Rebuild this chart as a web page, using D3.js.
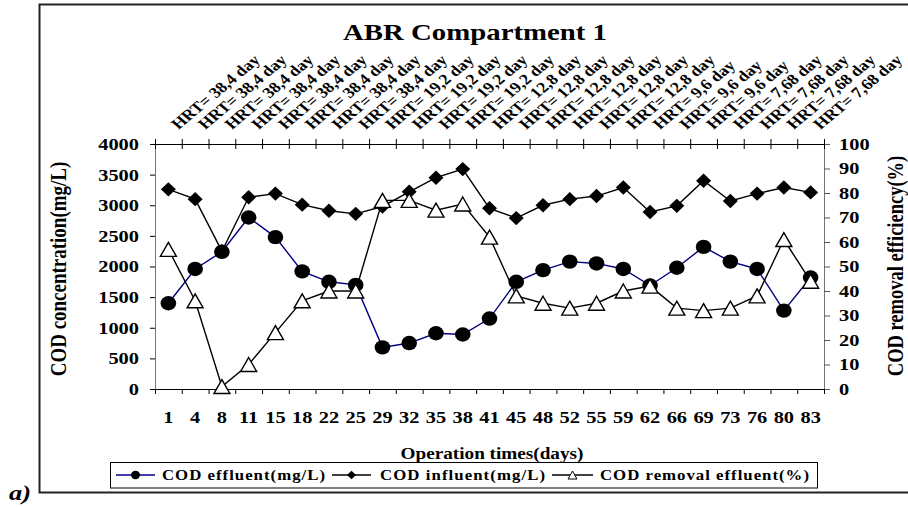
<!DOCTYPE html>
<html><head><meta charset="utf-8">
<script src="https://cdn.jsdelivr.net/npm/d3@7"></script>
<style>
html,body{margin:0;padding:0;background:#fff;}
</style></head>
<body>
<svg id="c" width="908" height="507"></svg>
<script>
const days = [1,4,8,11,15,18,22,25,29,32,35,38,41,45,48,52,55,59,62,66,69,73,76,80,83];
const hrtLabels = [
 "HRT= 38,4 day","HRT= 38,4 day","HRT= 38,4 day","HRT= 38,4 day","HRT= 38,4 day","HRT= 38,4 day","HRT= 38,4 day","HRT= 38,4 day",
 "HRT= 19,2 day","HRT= 19,2 day","HRT= 19,2 day","HRT= 19,2 day",
 "HRT= 12,8 day","HRT= 12,8 day","HRT= 12,8 day","HRT= 12,8 day","HRT= 12,8 day","HRT= 12,8 day",
 "HRT= 9,6 day","HRT= 9,6 day","HRT= 9,6 day",
 "HRT= 7,68 day","HRT= 7,68 day","HRT= 7,68 day","HRT= 7,68 day"];
const effluent = [1400,1960,2240,2800,2480,1920,1750,1700,680,750,910,890,1150,1750,1940,2080,2050,1960,1690,1980,2320,2080,1960,1280,1820];
const influent = [3260,3100,2250,3130,3190,3010,2910,2860,2980,3220,3450,3590,2950,2790,3000,3100,3150,3290,2890,2990,3400,3070,3190,3290,3210];
const removal = [57,36,1,10,23,36,40,40,77,77,73,75.5,62,38,35,33,35,40,42,33,32,33,38,61,44];
const leftTicks = [0,500,1000,1500,2000,2500,3000,3500,4000];
const rightTicks = [0,10,20,30,40,50,60,70,80,90,100];
const title = "ABR Compartment 1";
const xTitle = "Operation times(days)";
const yTitleL = "COD concentration(mg/L)";
const yTitleR = "COD removal efficiency(%)";
const legendNames = ["COD effluent(mg/L)","COD influent(mg/L)","COD removal effluent(%)"];

const FONT = "'Liberation Serif', 'Times New Roman', serif";
const SX = 1.2; // horizontal stretch of the original
const svg = d3.select("#c");
const L=155, R=824, T=144, B=389;

const x = d3.scaleBand().domain(days).range([L,R]).padding(0);
const cx = d => x(d) + x.bandwidth()/2;
const xb = d3.scaleLinear().domain([0,days.length]).range([L,R]);
const yL = d3.scaleLinear().domain([0,4000]).range([B,T]);
const yR = d3.scaleLinear().domain([0,100]).range([B,T]);

function styleText(sel, size){
  return sel.style("font-family",FONT).style("font-weight","bold").style("font-size",size+"px").attr("fill","#000");
}

// outer frame
svg.append("rect").attr("x",39.5).attr("y",4.5).attr("width",900).attr("height",488)
  .attr("fill","none").attr("stroke","#222").attr("stroke-width",2);

function stretchText(sel){
  sel.each(function(){
    const t=d3.select(this);
    const xx=+t.attr("x")||0;
    t.attr("x",0).attr("transform",`translate(${xx},0) scale(${SX},1)`);
  });
}

// left axis
const gl = svg.append("g").attr("transform",`translate(${L},0)`)
  .call(d3.axisLeft(yL).tickValues(leftTicks).tickFormat(d3.format("d")).tickSize(5).tickSizeOuter(0).tickPadding(11));
gl.select(".domain").attr("stroke","#777");
styleText(gl.selectAll("text"),17);
stretchText(gl.selectAll("text"));

// right axis
const gr = svg.append("g").attr("transform",`translate(${R},0)`)
  .call(d3.axisRight(yR).tickValues(rightTicks).tickFormat(d3.format("d")).tickSize(6).tickSizeOuter(0).tickPadding(9));
gr.select(".domain").attr("stroke","#777");
gr.selectAll(".tick line").attr("stroke","#555");
styleText(gr.selectAll("text"),17);
stretchText(gr.selectAll("text"));

// bottom axis: boundary ticks
const gb = svg.append("g").attr("transform",`translate(0,${B})`)
  .call(d3.axisBottom(xb).tickValues(d3.range(0,days.length+1)).tickFormat("").tickSize(5).tickSizeOuter(0));
gb.select(".domain").attr("stroke","#000");
// bottom labels
const gbl = svg.append("g").attr("transform",`translate(0,${B})`)
  .call(d3.axisBottom(x).tickSize(0).tickPadding(22));
gbl.select(".domain").remove();
styleText(gbl.selectAll("text"),17).attr("transform",`scale(${SX},1)`);

// top axis: cross ticks
const gt = svg.append("g").attr("transform",`translate(0,${T})`)
  .call(d3.axisTop(xb).tickValues(d3.range(0,days.length+1)).tickFormat("").tickSize(5).tickSizeOuter(0));
gt.select(".domain").attr("stroke","#000");
const gt2 = svg.append("g").attr("transform",`translate(0,${T})`)
  .call(d3.axisBottom(xb).tickValues(d3.range(0,days.length+1)).tickFormat("").tickSize(5).tickSizeOuter(0));
gt2.select(".domain").remove();
// top HRT labels
const gtl = svg.append("g").attr("transform",`translate(0,${T})`)
  .call(d3.axisTop(x).tickSize(0).tickFormat((d,i)=>hrtLabels[i]));
gtl.select(".domain").remove();
styleText(gtl.selectAll("text"),15)
  .attr("text-anchor","start").attr("x",0).attr("y",0).attr("dy",0)
  .attr("transform",`translate(10,-14) scale(${SX},1) rotate(-45)`);

// series lines
const lineOf = (sc, arr) => d3.line().x((d,i)=>cx(days[i])).y(d=>sc(d))(arr);
svg.append("path").attr("d",lineOf(yL,influent)).attr("fill","none").attr("stroke","#000").attr("stroke-width",1.4);
svg.append("path").attr("d",lineOf(yL,effluent)).attr("fill","none").attr("stroke","#000080").attr("stroke-width",1.4);
svg.append("path").attr("d",lineOf(yR,removal)).attr("fill","none").attr("stroke","#000").attr("stroke-width",1.4);

const diamond = (w,h)=>`M0,${-h}L${w},0L0,${h}L${-w},0Z`;
const tri = (w,h)=>`M0,${-h}L${w},${h}L${-w},${h}Z`;

svg.append("g").selectAll("path").data(influent).join("path")
  .attr("d",diamond(7.5,7.2)).attr("transform",(d,i)=>`translate(${cx(days[i])},${yL(d)})`).attr("fill","#000");
svg.append("g").selectAll("ellipse").data(effluent).join("ellipse")
  .attr("cx",(d,i)=>cx(days[i])).attr("cy",d=>yL(d)).attr("rx",7.8).attr("ry",7.2).attr("fill","#000");
svg.append("g").selectAll("path").data(removal).join("path")
  .attr("d",tri(8,7)).attr("transform",(d,i)=>`translate(${cx(days[i])},${yR(d)})`)
  .attr("fill","#fff").attr("stroke","#000").attr("stroke-width",1.4);

// title
styleText(svg.append("text").text(title),24).attr("text-anchor","middle")
  .attr("transform",`translate(475,40) scale(${SX},1)`);
// axis titles
styleText(svg.append("text").text(xTitle),16).attr("text-anchor","middle")
  .attr("transform",`translate(492,459) scale(${SX},1)`);
styleText(svg.append("text").text(yTitleL),19).attr("text-anchor","middle").attr("dominant-baseline","central")
  .attr("transform",`translate(58,269) scale(${SX},1) rotate(-90)`);
styleText(svg.append("text").text(yTitleR),18.5).attr("text-anchor","middle").attr("dominant-baseline","central")
  .attr("transform",`translate(895,266) scale(${SX},1) rotate(-90)`);

// legend
const lg = svg.append("g");
lg.append("rect").attr("x",110.5).attr("y",462.5).attr("width",707).attr("height",25.5)
  .attr("fill","#fff").attr("stroke","#000").attr("stroke-width",1);
const legItems = [
  {x0:116,x1:155,tx:162,tw:163,color:"#000080",mk:"circle"},
  {x0:332,x1:371,tx:380,tw:165,color:"#000",mk:"diamond"},
  {x0:552,x1:593,tx:600,tw:209,color:"#000",mk:"tri"}];
const ly=475;
legItems.forEach((it,i)=>{
  lg.append("line").attr("x1",it.x0).attr("x2",it.x1).attr("y1",ly).attr("y2",ly).attr("stroke",it.color).attr("stroke-width",1.4);
  const mx=(it.x0+it.x1)/2;
  if(it.mk==="circle") lg.append("ellipse").attr("cx",mx).attr("cy",ly).attr("rx",4.5).attr("ry",4.2).attr("fill","#000");
  if(it.mk==="diamond") lg.append("path").attr("d",diamond(4.5,4.3)).attr("transform",`translate(${mx},${ly})`).attr("fill","#000");
  if(it.mk==="tri") lg.append("path").attr("d",tri(4.5,4)).attr("transform",`translate(${mx},${ly})`).attr("fill","#fff").attr("stroke","#000").attr("stroke-width",1);
  styleText(lg.append("text").text(legendNames[i]),14)
    .attr("textLength",it.tw/SX).attr("lengthAdjust","spacing")
    .attr("transform",`translate(${it.tx},480) scale(${SX},1)`);
});

// panel label
styleText(svg.append("text").text("a)"),22).style("font-style","italic")
  .attr("transform",`translate(9,500) scale(${SX},1)`);
</script>
</body></html>
